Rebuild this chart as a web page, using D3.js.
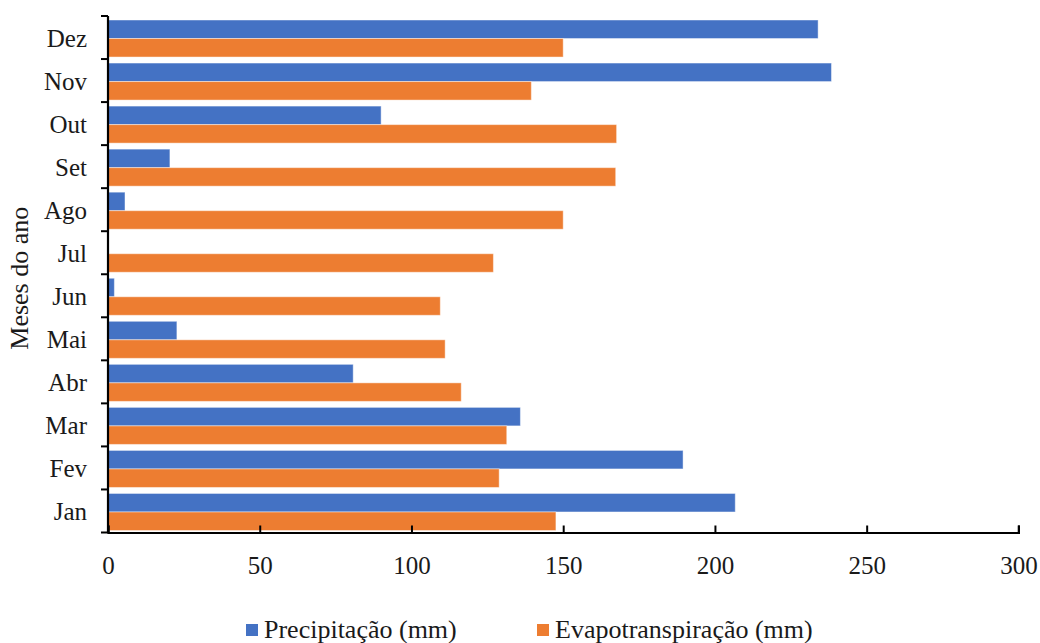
<!DOCTYPE html>
<html>
<head>
<meta charset="utf-8">
<script src="https://cdn.jsdelivr.net/npm/d3@7/dist/d3.min.js"></script>
<style>
  html, body { margin: 0; padding: 0; background: #fff; }
  svg { display: block; }
  svg text { font-family: "Liberation Serif", "Times New Roman", Times, "DejaVu Serif", serif; fill: #1a1a1a; }
</style>
</head>
<body>
<script>
// Monthly climate balance: precipitation vs. evapotranspiration (mm)
const months = ["Jan", "Fev", "Mar", "Abr", "Mai", "Jun", "Jul", "Ago", "Set", "Out", "Nov", "Dez"];
const precipitacao = [206.7, 189.5, 135.9, 80.8, 22.7, 2.1, 0, 5.6, 20.4, 90.0, 238.4, 234.0];
const evapotranspiracao = [147.6, 128.9, 131.4, 116.4, 111.1, 109.5, 127.0, 150.0, 167.3, 167.6, 139.5, 150.0];
const seriesNames = ["Precipitação (mm)", "Evapotranspiração (mm)"];
const seriesColors = ["#4472C4", "#ED7D31"];
const xTicks = [0, 50, 100, 150, 200, 250, 300];
const yTitle = "Meses do ano";

const FONT = '"Liberation Serif", "Times New Roman", Times, "DejaVu Serif", serif';
const W = 1040, H = 643;
const plot = { left: 108, right: 1018.4, top: 16, bottom: 532.5 };

const svg = d3.select("body").append("svg").attr("width", W).attr("height", H);

const x = d3.scaleLinear().domain([0, 300]).range([plot.left, plot.right]);
// Jan at the bottom, Dez at the top
const y = d3.scaleBand().domain(months).range([plot.bottom, plot.top]).padding(0);
const ySub = d3.scaleBand().domain([0, 1]).range([4, y.bandwidth() - 2]).padding(0);

const rows = months.map((m, i) => ({ month: m, values: [precipitacao[i], evapotranspiracao[i]] }));

// bars
const g = svg.append("g");
rows.forEach(r => {
  r.values.forEach((v, s) => {
    if (v <= 0) return;
    g.append("rect")
      .attr("x", x(0))
      .attr("y", y(r.month) + ySub(s))
      .attr("width", x(v) - x(0))
      .attr("height", ySub.bandwidth())
      .attr("fill", seriesColors[s])
      .attr("stroke", "rgba(255,255,255,0.45)")
      .attr("stroke-width", 1);
  });
});

// x axis: ticks pointing into the plot
const xAxis = svg.append("g").attr("transform", `translate(0,${plot.bottom})`)
  .call(d3.axisBottom(x).tickValues(xTicks).tickSizeInner(-7).tickSizeOuter(-7).tickPadding(18).tickFormat(d3.format("d")));
xAxis.attr("font-family", FONT);
xAxis.select(".domain").attr("stroke", "#000").attr("stroke-width", 2.2);
xAxis.selectAll(".tick line").attr("stroke", "#000").attr("stroke-width", 2);
xAxis.selectAll(".tick text").attr("font-size", 25).attr("fill", "#1a1a1a").attr("dy", "0.95em");

// y axis: ticks at the category boundaries, pointing outward
const yAxisG = svg.append("g").attr("transform", `translate(${plot.left},0)`);
yAxisG.append("line")
  .attr("x1", 0).attr("x2", 0).attr("y1", plot.top).attr("y2", plot.bottom)
  .attr("stroke", "#000").attr("stroke-width", 2.2);
const boundaries = months.map(m => y(m)).concat([plot.bottom]);
yAxisG.selectAll("line.tk").data(boundaries).join("line").attr("class", "tk")
  .attr("x1", -7).attr("x2", 0).attr("y1", d => d).attr("y2", d => d)
  .attr("stroke", "#000").attr("stroke-width", 2);
yAxisG.selectAll("text.lbl").data(months).join("text").attr("class", "lbl")
  .attr("x", -21)
  .attr("y", d => y(d) + y.bandwidth() / 2 + 9.5)
  .attr("text-anchor", "end")
  .attr("font-size", 25)
  .text(d => d);

// y title
svg.append("text")
  .attr("transform", `translate(28,${(plot.top + plot.bottom) / 2 + 4}) rotate(-90)`)
  .attr("text-anchor", "middle")
  .attr("font-size", 26)
  .text(yTitle);

// legend
const legendItems = [{ x: 246, i: 0 }, { x: 537, i: 1 }];
const lg = svg.append("g");
legendItems.forEach(it => {
  lg.append("rect").attr("x", it.x).attr("y", 624).attr("width", 12).attr("height", 12)
    .attr("fill", seriesColors[it.i]);
  lg.append("text").attr("x", it.x + 18).attr("y", 637.5)
    .attr("font-size", 26).text(seriesNames[it.i]);
});
</script>
</body>
</html>
